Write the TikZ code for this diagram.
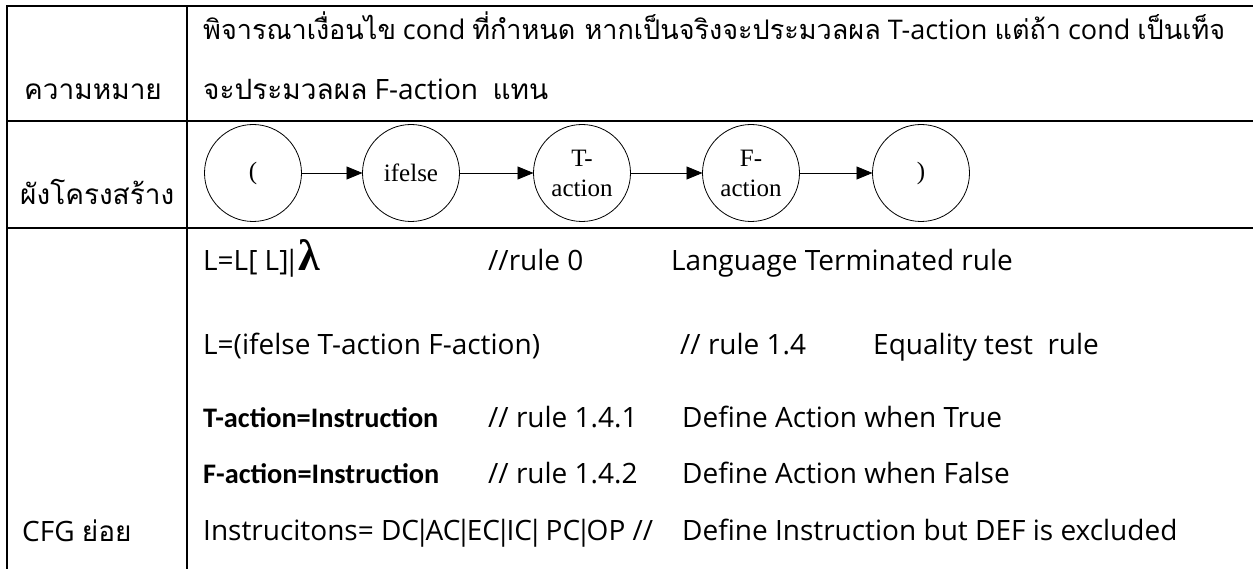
\documentclass[tikz,border=0pt]{standalone}
\usepackage{fontspec}
\setmainfont{Open Sans}
\newfontfamily\thfont[Script=Thai]{Loma}
\newfontfamily\circfont{Liberation Serif}
\newfontfamily\boldlabelfont{Carlito}
\usetikzlibrary{arrows.meta}
\newcommand\thx[1]{{\thfont #1}}
% a narrow vertical bar for the grammar alternatives
\newcommand\vb{\kern-4.5pt|\kern-4.5pt}

\begin{document}
\begin{tikzpicture}[x=1pt,y=-1pt,
  rulerline/.style={line width=2pt},
  txt/.style={anchor=base west,inner sep=0pt,font=\fontsize{28}{34}\selectfont},
  thtxt/.style={anchor=base west,inner sep=0pt,font=\fontsize{28}{34}\selectfont\thfont},
  boldtxt/.style={anchor=base west,inner sep=0pt,font=\fontsize{28.3}{34}\selectfont\boldlabelfont\bfseries},
  state/.style={circle,draw,line width=0.8pt,minimum size=97pt,inner sep=0pt,outer sep=0pt,
    align=center,font=\fontsize{25}{30}\selectfont\circfont},
  link/.style={-{Triangle[length=16pt,width=13pt]},line width=0.8pt}
]
\useasboundingbox (0,0) rectangle (1253,569);

% table rules
\draw[rulerline] (1253,6) -- (7,6) -- (7,569);
\draw[rulerline] (187,6) -- (187,569);
\draw[rulerline] (7,121) -- (1253,121);
\draw[rulerline] (7,228) -- (1253,228);

% row 1: meaning
\node[thtxt] (lblmean) at (24,100) {ความหมาย};
\node[txt] (mean1) at (203,40) {\resizebox{1022pt}{!}{\thx{พิจารณาเงื่อนไข} cond \thx{ที่กำหนด หากเป็นจริงจะประมวลผล} T-action \thx{แต่ถ้า} cond \thx{เป็นเท็จ}}};
\node[txt] (mean2) at (203,100) {\thx{จะประมวลผล} F-action \ \thx{แทน}};

% row 2: structure chart
\node[thtxt] (lblchart) at (20,205) {ผังโครงสร้าง};
\node[state] (open)  at (253,173) {(};
\node[state] (ifel)  at (411,173) {ifelse};
\node[state] (tact)  at (582,173) {T-\\action};
\node[state] (fact)  at (751,173) {F-\\action};
\node[state] (close) at (921,173) {)};
\draw[link] (open) -- (ifel);
\draw[link] (ifel) -- (tact);
\draw[link] (tact) -- (fact);
\draw[link] (fact) -- (close);

% row 3: sub grammar
\node[thtxt] (lblcfg) at (22,541) {\fontspec{Open Sans}CFG \thfont ย่อย};
\node[txt] (r0a) at (203,271) {L=L[ L]\kern-4.5pt|\kern-1pt{\circfont\bfseries\fontsize{44}{44}\selectfont λ}};
\node[txt] (r0b) at (488,271) {//rule 0};
\node[txt] (r0c) at (671,271) {Language Terminated rule};

\node[txt] (r1a) at (203,354) {L=(ifelse T-action F-action)};
\node[txt] (r1b) at (680,354) {// rule 1.4};
\node[txt] (r1c) at (873,354) {Equality test \ rule};

\node[boldtxt] (r2a) at (203,427) {T-action=Instruction};
\node[txt] (r2b) at (488,427) {// rule 1.4.1};
\node[txt] (r2c) at (682,427) {Define Action when True};

\node[boldtxt] (r3a) at (203,483) {F-action=Instruction};
\node[txt] (r3b) at (488,483) {// rule 1.4.2};
\node[txt] (r3c) at (682,483) {Define Action when False};

\node[txt] (r4a) at (203,540) {Instrucitons= DC\vb AC\vb EC\vb IC\vb{} PC\vb OP //};
\node[txt] (r4c) at (682,540) {Define Instruction but DEF is excluded};
\end{tikzpicture}
\end{document}
